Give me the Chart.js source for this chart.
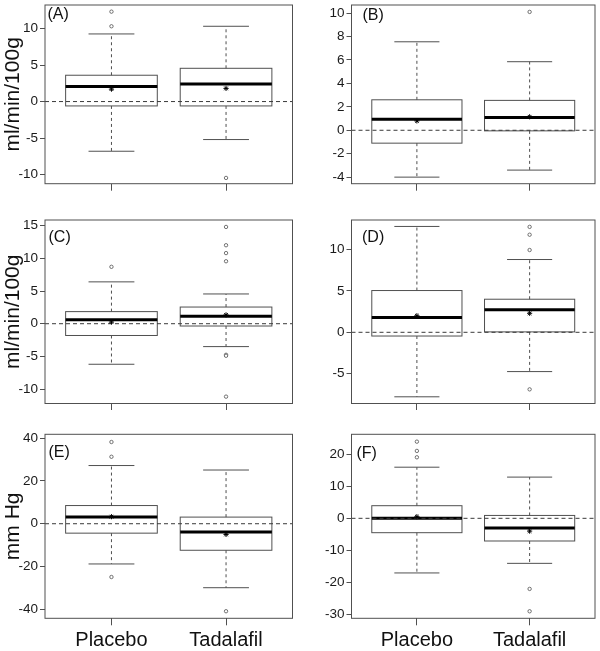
<!DOCTYPE html>
<html>
<head>
<meta charset="utf-8">
<script src="https://cdn.jsdelivr.net/npm/chart.js@4"></script>
<style>
  body { margin: 0; background: #fff; width: 600px; height: 651px; position: relative; overflow: hidden; }
  canvas { position: absolute; }
</style>
</head>
<body>
<canvas id="cA" width="300" height="200" style="left:0;top:0"></canvas>
<canvas id="cB" width="300" height="200" style="left:300px;top:0"></canvas>
<canvas id="cC" width="300" height="210" style="left:0;top:200px"></canvas>
<canvas id="cD" width="300" height="210" style="left:300px;top:200px"></canvas>
<canvas id="cE" width="300" height="241" style="left:0;top:410px"></canvas>
<canvas id="cF" width="300" height="241" style="left:300px;top:410px"></canvas>
<script>
// Groups on the x axis
const groups = ['Placebo', 'Tadalafil'];

// Box summaries per group: [lower whisker, Q1, median, Q3, upper whisker]
const boxA = [[-6.8, -0.6, 2.05, 3.6, 9.25], [-5.2, -0.6, 2.4, 4.55, 10.3]];
const boxB = [[-4.0, -1.1, 0.93, 2.6, 7.55], [-3.4, -0.05, 1.1, 2.55, 5.85]];
const boxC = [[-6.2, -1.8, 0.62, 1.85, 6.4], [-3.5, -0.35, 1.15, 2.55, 4.55]];
const boxD = [[-7.8, -0.45, 1.78, 5.05, 12.8], [-4.75, 0.05, 2.72, 4.0, 8.8]];
const boxE = [[-18.8, -4.4, 3.1, 8.5, 27.2], [-29.9, -12.4, -3.9, 3.1, 25.1]];
const boxF = [[-17.1, -4.5, 0, 3.95, 16.0], [-14.1, -7.1, -3.0, 0.9, 12.9]];

// Means (asterisks)
const meanA = [1.7, 1.8];
const meanB = [0.8, 1.15];
const meanC = [0.25, 1.35];
const meanD = [2.0, 2.3];
const meanE = [3.3, -5.0];
const meanF = [0.5, -4.0];

// Outliers per group
const outA = [[12.3, 10.3], [-10.45]];
const outB = [[], [10.1]];
const outC = [[8.7], [14.8, 12.0, 10.8, 9.55, -4.75, -4.9, -11.15]];
const outD = [[], [12.75, 11.8, 9.95, -6.9]];
const outE = [[38.2, 31.3, -24.9], [-40.9]];
const outF = [[24.0, 21.1, 19.1], [-22.1, -29.1]];

// Y tick labels
const ticksA = [-10, -5, 0, 5, 10];
const ticksB = [-4, -2, 0, 2, 4, 6, 8, 10];
const ticksC = [-10, -5, 0, 5, 10, 15];
const ticksD = [-5, 0, 5, 10];
const ticksE = [-40, -20, 0, 20, 40];
const ticksF = [-30, -20, -10, 0, 10, 20];

// Axis titles
const yTitleTop = 'ml/min/100g';
const yTitleBottom = 'mm Hg';

Chart.defaults.font.family = "'Liberation Sans', Arial, sans-serif";
Chart.defaults.color = '#1a1a1a';

const lineCol = '#505050';

// Panel layout: canvas box and plot area in page pixels
const panels = [
  { id: 'A', box: boxA, mean: meanA, out: outA, ticks: ticksA, yMin: -11.24, yMax: 13.21, title: yTitleTop,
    canvas: [0, 0, 300, 200], area: [45, 1, 292.5, 183.7], letter: [47.5, 18.5] },
  { id: 'B', box: boxB, mean: meanB, out: outB, ticks: ticksB, yMin: -4.56, yMax: 10.69, title: '',
    canvas: [300, 0, 600, 200], area: [351.5, 1, 597, 183.7], letter: [362.5, 20] },
  { id: 'C', box: boxC, mean: meanC, out: outC, ticks: ticksC, yMin: -12.2, yMax: 15.86, title: yTitleTop,
    canvas: [0, 200, 300, 410], area: [45, 220, 292.5, 403.5], letter: [48.5, 241.5] },
  { id: 'D', box: boxD, mean: meanD, out: outD, ticks: ticksD, yMin: -8.61, yMax: 13.58, title: '',
    canvas: [300, 200, 600, 410], area: [351.5, 220, 597, 403.5], letter: [362, 241.5] },
  { id: 'E', box: boxE, mean: meanE, out: outE, ticks: ticksE, yMin: -44.2, yMax: 41.8, title: yTitleBottom,
    canvas: [0, 410, 300, 651], area: [45, 434.3, 292.5, 618.3], letter: [48.5, 456.5], xLabels: true },
  { id: 'F', box: boxF, mean: meanF, out: outF, ticks: ticksF, yMin: -31.3, yMax: 26.3, title: '',
    canvas: [300, 410, 600, 651], area: [351.5, 434.3, 597, 618.3], letter: [356.5, 458], xLabels: true }
];

// Draws boxes, whiskers, medians, zero line, frame and panel letter
const boxPlugin = {
  id: 'boxes',
  beforeDatasetsDraw(chart, args, opts) {
    const p = opts.panel;
    const { ctx, chartArea: a } = chart;
    const x = chart.scales.x, y = chart.scales.y;
    function line(x1, y1, x2, y2) {
      ctx.beginPath(); ctx.moveTo(x1, y1); ctx.lineTo(x2, y2); ctx.stroke();
    }
    ctx.save();
    p.box.forEach((b, i) => {
      const cx = x.getPixelForValue(i + 1);
      const hw = x.getPixelForValue(i + 1.4) - cx;
      const [lo, q1, med, q3, hi] = b.map(v => y.getPixelForValue(v));
      ctx.strokeStyle = lineCol;
      ctx.lineWidth = 1;
      ctx.setLineDash([3, 3]);
      line(cx, q3, cx, hi);
      line(cx, q1, cx, lo);
      ctx.setLineDash([]);
      line(cx - hw / 2, hi, cx + hw / 2, hi);
      line(cx - hw / 2, lo, cx + hw / 2, lo);
      ctx.strokeRect(cx - hw, q3, 2 * hw, q1 - q3);
      ctx.strokeStyle = '#000';
      ctx.lineWidth = 3;
      line(cx - hw, med, cx + hw, med);
    });
    // dashed zero line
    const y0 = y.getPixelForValue(0);
    ctx.strokeStyle = '#3a3a3a';
    ctx.lineWidth = 1;
    ctx.setLineDash([4, 3]);
    line(a.left, y0, a.right, y0);
    ctx.setLineDash([]);
    // frame
    ctx.strokeStyle = lineCol;
    ctx.strokeRect(a.left, a.top, a.right - a.left, a.bottom - a.top);
    // panel letter
    ctx.fillStyle = '#111';
    ctx.font = "16px 'Liberation Sans', Arial, sans-serif";
    ctx.textBaseline = 'alphabetic';
    ctx.fillText('(' + p.id + ')', p.letter[0] - p.canvas[0], p.letter[1] - p.canvas[1]);
    ctx.restore();
  }
};

panels.forEach(p => {
  const [cl, ct, cr, cb] = p.canvas;
  const [al, at, ar, ab] = p.area;
  const yWidth = al - cl;
  const xHeight = cb - ab;

  const outliers = [];
  p.out.forEach((vals, i) => vals.forEach(v => outliers.push({ x: i + 1, y: v })));
  const means = p.mean.map((v, i) => ({ x: i + 1, y: v }));

  new Chart(document.getElementById('c' + p.id), {
    type: 'scatter',
    data: {
      datasets: [{
        label: 'Outliers',
        data: outliers,
        pointStyle: 'circle',
        pointRadius: 1.7,
        pointBorderWidth: 0.8,
        pointBorderColor: lineCol,
        pointBackgroundColor: '#fff'
      }, {
        label: 'Mean',
        data: means,
        pointStyle: 'star',
        pointRadius: 2.6,
        pointBorderWidth: 1,
        pointBorderColor: '#000',
        pointBackgroundColor: '#000'
      }]
    },
    options: {
      responsive: false,
      animation: false,
      clip: false,
      layout: { padding: { left: 0, right: cr - ar, top: at - ct, bottom: 0 } },
      plugins: {
        legend: { display: false },
        tooltip: { enabled: false },
        boxes: { panel: p }
      },
      scales: {
        x: {
          type: 'linear',
          min: 0.42,
          max: 2.58,
          afterBuildTicks: s => { s.ticks = groups.map((g, i) => ({ value: i + 1 })); },
          afterFit: s => { s.height = xHeight; s.paddingLeft = 0; s.paddingRight = 0; },
          border: { display: false },
          grid: { drawOnChartArea: false, drawTicks: true, tickLength: 7, color: lineCol },
          ticks: {
            padding: 3,
            font: { size: 20 },
            color: '#111',
            maxRotation: 0,
            autoSkip: false,
            callback: v => p.xLabels ? groups[v - 1] : ''
          }
        },
        y: {
          type: 'linear',
          min: p.yMin,
          max: p.yMax,
          afterBuildTicks: s => { s.ticks = p.ticks.map(v => ({ value: v })); },
          afterFit: s => { s.width = yWidth; s.paddingTop = 0; s.paddingBottom = 0; },
          border: { display: false },
          grid: { drawOnChartArea: false, drawTicks: true, tickLength: 5, color: lineCol },
          ticks: { padding: 2, font: { size: 13.5 }, color: '#1a1a1a' },
          title: {
            display: p.title !== '',
            text: p.title,
            font: { size: 21 },
            color: '#111',
            padding: { top: 1, bottom: 0 }
          }
        }
      }
    },
    plugins: [boxPlugin]
  });
});
</script>
</body>
</html>
